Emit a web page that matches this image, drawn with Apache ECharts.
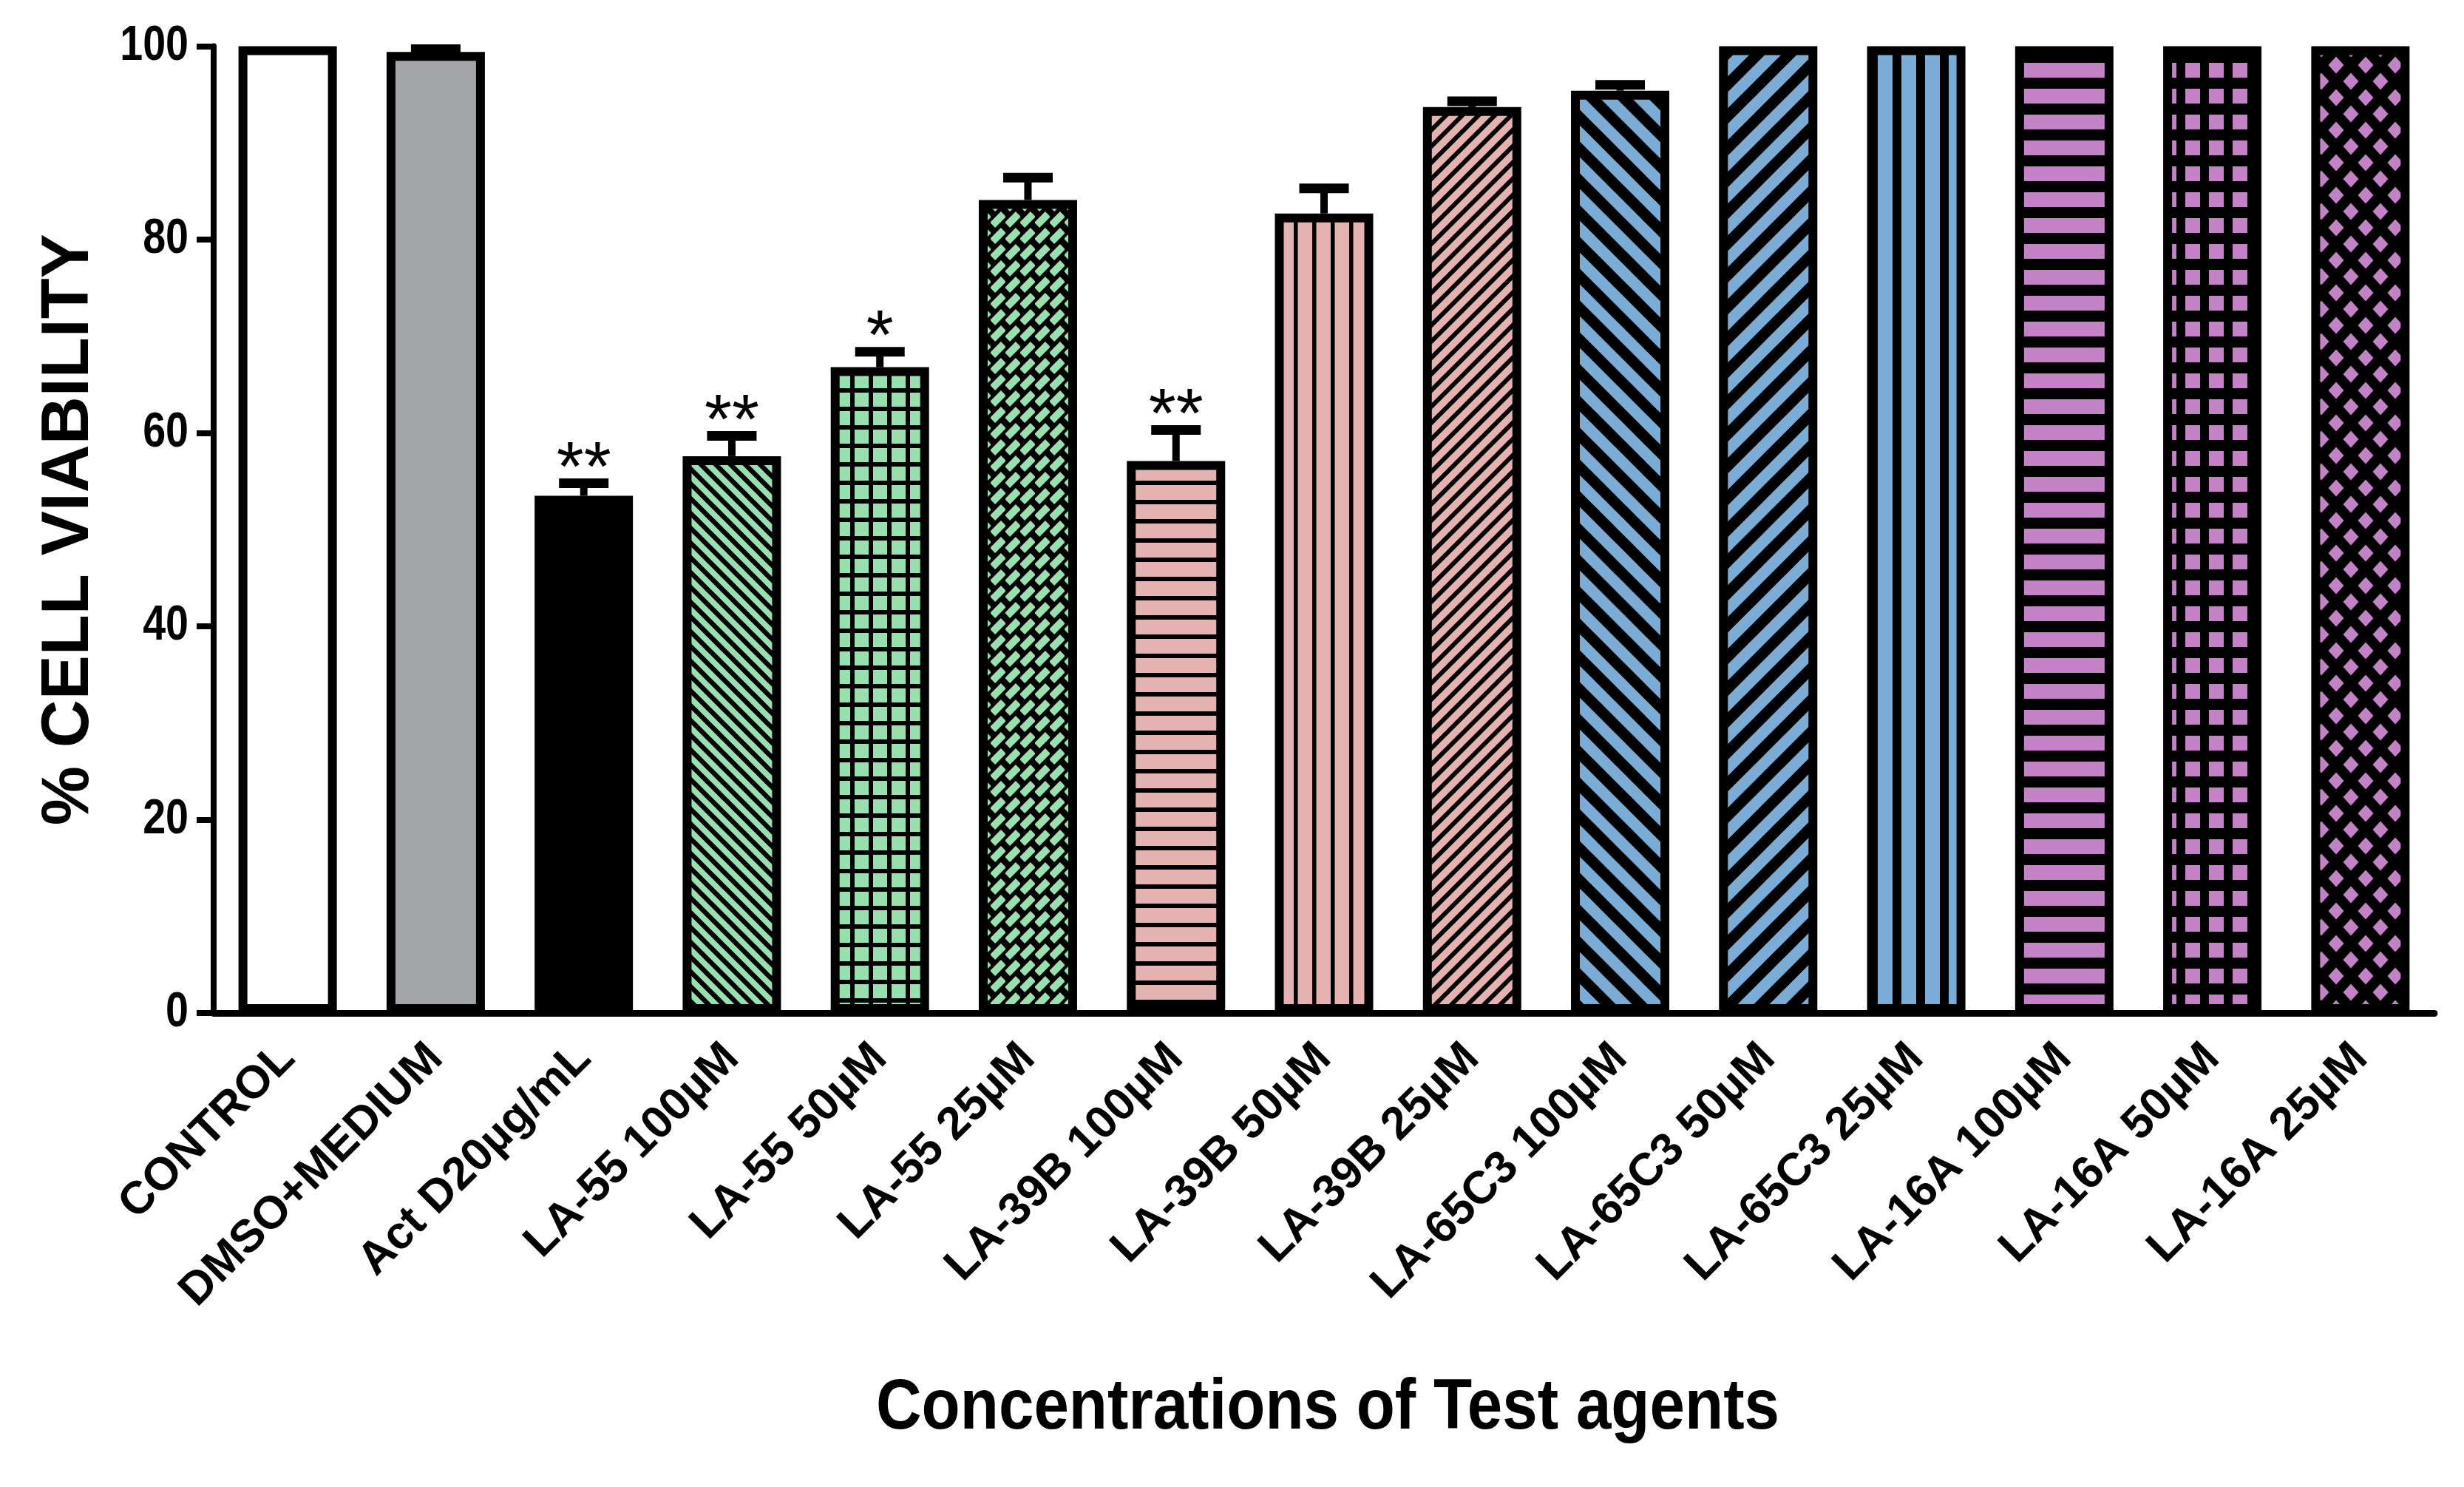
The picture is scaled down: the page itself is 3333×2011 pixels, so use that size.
<!DOCTYPE html>
<html>
<head>
<meta charset="utf-8">
<script src="https://cdn.jsdelivr.net/npm/echarts@6/dist/echarts.min.js"></script>
<style>
html,body{margin:0;padding:0;background:#fff;}
#c{width:3333px;height:2011px;}
</style>
</head>
<body>
<div id="c"></div>
<script>
// ---- data ----
var categories = ['CONTROL','DMSO+MEDIUM','Act D20µg/mL','LA-55 100µM','LA-55 50µM','LA-55 25µM',
  'LA-39B 100µM','LA-39B 50µM','LA-39B 25µM','LA-65C3 100µM','LA-65C3 50µM','LA-65C3 25µM',
  'LA-16A 100µM','LA-16A 50µM','LA-16A 25µM'];
var viability = [100, 99.4, 53.5, 57.6, 66.8, 84.1, 57.1, 82.7, 93.7, 95.4, 100, 100, 100, 100, 100];
var errorUp   = [0, 0.3, 1.3, 2.1, 1.6, 2.3, 3.2, 2.6, 0.6, 0.6, 0, 0, 0, 0, 0];
var significance = ['', '', '**', '**', '*', '', '**', '', '', '', '', '', '', '', ''];
var yTicks = [0, 20, 40, 60, 80, 100];
var xTitle = 'Concentrations of Test agents';
var yTitle = '% CELL VIABILITY';

// ---- styles ----
var GREEN = 'rgb(152,224,176)', PINK = 'rgb(228,178,177)', BLUE = 'rgb(123,172,214)', PURPLE = 'rgb(195,130,198)';
function tile(w, h, bg, draw) {
  var cv = document.createElement('canvas');
  cv.width = w; cv.height = h;
  var ctx = cv.getContext('2d');
  ctx.fillStyle = bg; ctx.fillRect(0, 0, w, h);
  ctx.fillStyle = '#000'; ctx.strokeStyle = '#000';
  draw(ctx, w, h);
  return {image: cv, repeat: 'repeat'};
}
function diag(dir, lw) {
  return function (ctx, w, h) {
    ctx.lineWidth = lw; ctx.lineCap = 'square';
    for (var k = -1; k <= 1; k++) {
      ctx.beginPath();
      if (dir === '/') { ctx.moveTo(k * w, h); ctx.lineTo(k * w + w, 0); }
      else { ctx.moveTo(k * w, 0); ctx.lineTo(k * w + w, h); }
      ctx.stroke();
    }
  };
}
var fills = [
  '#ffffff',
  '#a4a5a9',
  '#000000',
  tile(20, 20, GREEN, diag('\\', 6.5)),
  tile(25, 25, GREEN, function (c, w, h) { c.fillRect(0, 0, 6, h); c.fillRect(0, 0, w, 6); }),
  tile(20, 22, '#000', function (c, w, h) {
    c.fillStyle = GREEN;
    c.save(); c.translate(w / 2, h / 2); c.rotate(-Math.PI / 4);
    c.fillRect(-10.5, -5, 21, 10); c.restore();
  }),
  tile(10, 26, PINK, function (c, w, h) { c.fillRect(0, 0, w, 6); }),
  tile(25, 10, PINK, function (c, w, h) { c.fillRect(0, 0, 5.5, h); }),
  tile(22, 22, PINK, diag('/', 6)),
  tile(43, 43, BLUE, diag('\\', 15)),
  tile(43, 43, BLUE, diag('/', 15)),
  tile(32, 10, BLUE, function (c, w, h) { c.fillRect(0, 0, 12, h); }),
  tile(10, 35, PURPLE, function (c, w, h) { c.fillRect(0, 0, w, 15); }),
  tile(32, 35, PURPLE, function (c, w, h) { c.fillRect(0, 0, 12, h); c.fillRect(0, 0, w, 15); }),
  tile(40, 44, '#000', function (c, w, h) {
    c.fillStyle = PURPLE;
    var centers = [[0, 0], [w, 0], [0, h], [w, h], [w / 2, h / 2]];
    centers.forEach(function (p) {
      c.beginPath();
      c.moveTo(p[0], p[1] - 11.5); c.lineTo(p[0] + 10.5, p[1]);
      c.lineTo(p[0], p[1] + 11.5); c.lineTo(p[0] - 10.5, p[1]); c.closePath(); c.fill();
    });
  })
];

var SANS = "'Liberation Sans', Arial, Helvetica, sans-serif";
var GRID = {left: 289, width: 3004, top: 62.5, height: 1307.5};

var chart = echarts.init(document.getElementById('c'), null, {renderer: 'canvas'});
chart.setOption({
  animation: false,
  backgroundColor: '#fff',
  grid: {left: GRID.left, width: GRID.width, top: GRID.top, height: GRID.height, containLabel: false},
  xAxis: {
    type: 'category',
    data: categories,
    axisLine: {lineStyle: {color: '#000', width: 9}},
    axisTick: {alignWithLabel: true, length: 25, lineStyle: {color: '#000', width: 8}},
    axisLabel: {interval: 0, rotate: 45, margin: 52, fontFamily: SANS, fontWeight: 'bold', fontSize: 62, color: '#000'}
  },
  yAxis: {
    type: 'value',
    min: yTicks[0], max: yTicks[yTicks.length - 1], interval: yTicks[1] - yTicks[0],
    name: yTitle,
    nameLocation: 'middle',
    nameRotate: 90,
    nameGap: 150,
    nameTextStyle: {fontFamily: SANS, fontWeight: 'bold', fontSize: 90, color: '#000'},
    axisLine: {show: true, lineStyle: {color: '#000', width: 8}},
    axisTick: {show: true, length: 23, lineStyle: {color: '#000', width: 8}},
    axisLabel: {show: false},
    splitLine: {show: false}
  },
  series: [
    {
      type: 'bar',
      barWidth: 133,
      data: viability.map(function (v, i) {
        return {value: v, itemStyle: {color: fills[i], borderColor: '#000', borderWidth: 12}};
      }),
      z: 2
    },
    {
      type: 'custom',
      z: 3,
      data: viability.map(function (v, i) { return [i, v, errorUp[i]]; }),
      encode: {x: 0, y: 1},
      renderItem: function (params, api) {
        var i = api.value(0), v = api.value(1), e = api.value(2);
        var sig = significance[params.dataIndex];
        var children = [];
        var base = api.coord([i, v]);
        var top = api.coord([i, v + e]);
        if (e > 0) {
          children.push({type: 'line', shape: {x1: base[0], y1: base[1], x2: top[0], y2: top[1]},
            style: {stroke: '#000', lineWidth: 10}});
          children.push({type: 'line', shape: {x1: top[0] - 33.5, y1: top[1], x2: top[0] + 33.5, y2: top[1]},
            style: {stroke: '#000', lineWidth: 13}});
        }
        if (sig) {
          children.push({type: 'text', style: {text: sig, x: top[0], y: top[1] - 17,
            align: 'center', verticalAlign: 'middle', fontFamily: SANS, fontSize: 95, fill: '#000'}});
        }
        return {type: 'group', children: children};
      }
    }
  ]
});

// condensed-bold tick labels and x title (Arial Narrow look = horizontally compressed Arial)
var graphics = yTicks.map(function (t) {
  var y = chart.convertToPixel({yAxisIndex: 0}, t);
  return {
    type: 'text', x: GRID.left - 34, y: y, scaleX: 0.83, scaleY: 1, z: 10,
    style: {text: String(t), align: 'right', verticalAlign: 'middle',
      fontFamily: SANS, fontWeight: 'bold', fontSize: 67, fill: '#000'}
  };
});
graphics.push({
  type: 'text', x: GRID.left + GRID.width / 2 + 5, y: 1905, scaleX: 0.88, scaleY: 1, z: 10,
  style: {text: xTitle, align: 'center', verticalAlign: 'middle',
    fontFamily: SANS, fontWeight: 'bold', fontSize: 97, fill: '#000'}
});
chart.setOption({graphic: graphics});
</script>
</body>
</html>
